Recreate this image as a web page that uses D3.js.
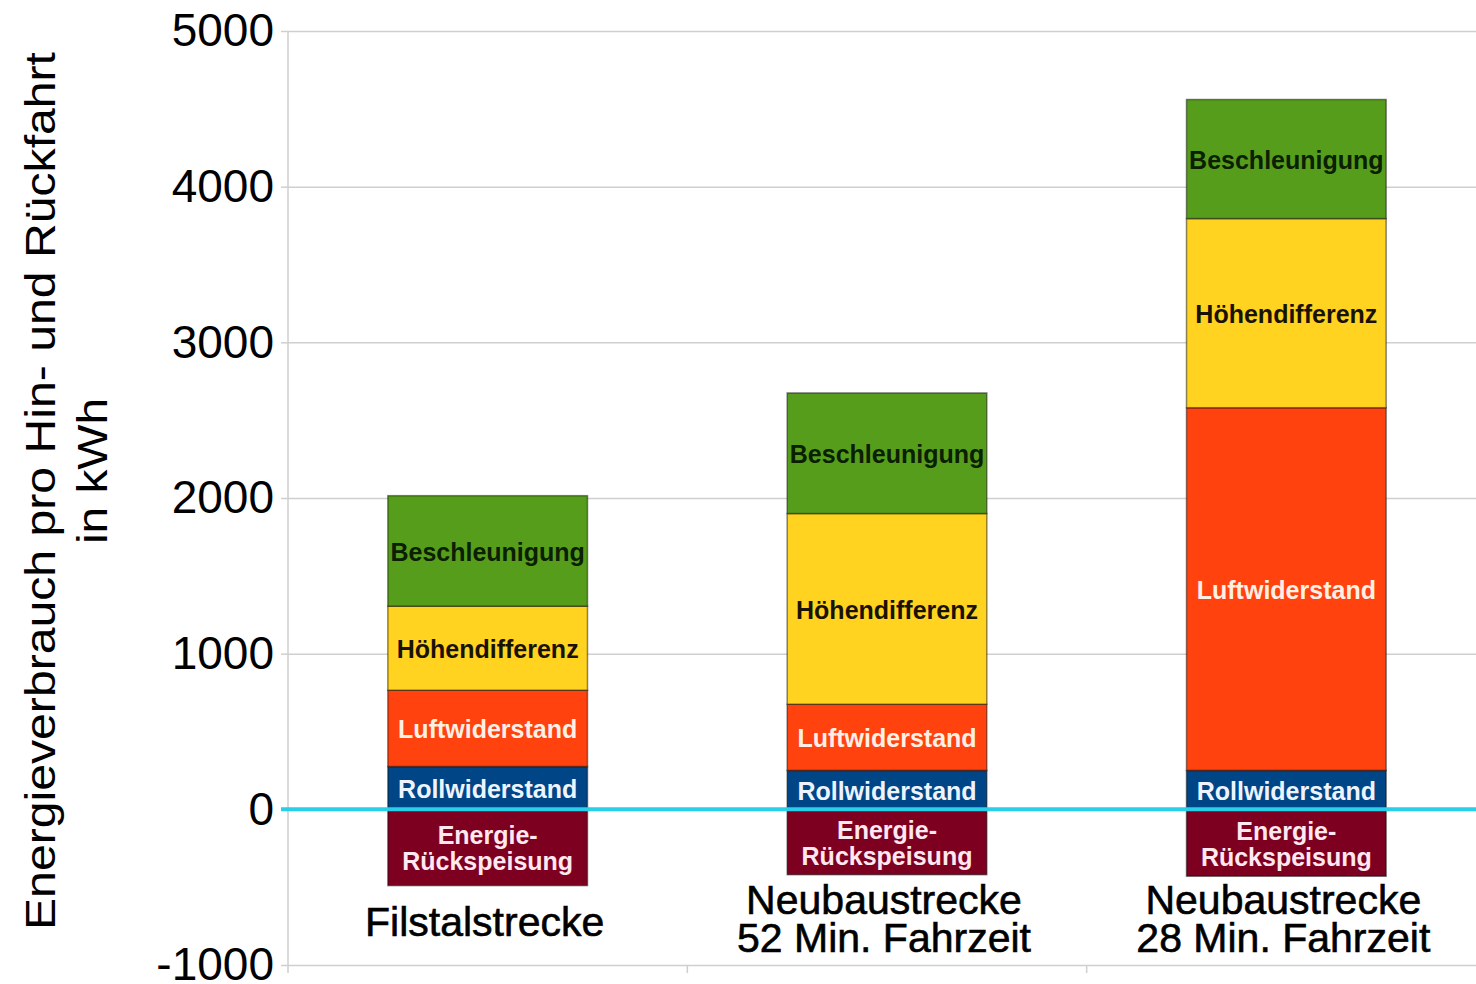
<!DOCTYPE html>
<html>
<head>
<meta charset="utf-8">
<script src="https://cdn.jsdelivr.net/npm/d3@7"></script>
<style>
    body { margin: 0; background: #ffffff; }
    svg { display: block; font-family: "Liberation Sans", Arial, sans-serif; }
</style>
</head>
<body>
<svg id="chart"></svg>
<script>
// Kategorien (Strecken), je Zeile ein Eintrag
var categories = [
    ["Filstalstrecke"],
    ["Neubaustrecke", "52 Min. Fahrzeit"],
    ["Neubaustrecke", "28 Min. Fahrzeit"]
];
// Energieanteile in kWh
var rollwiderstand = [275, 250, 250];
var luftwiderstand = [490, 425, 2330];
var hoehendifferenz = [540, 1225, 1215];
var beschleunigung = [710, 775, 765];
var rueckspeisung = [-490, -420, -430];
var yTicks = [-1000, 0, 1000, 2000, 3000, 4000, 5000];

var series = [
    { name: "Rollwiderstand", label: ["Rollwiderstand"], values: rollwiderstand, fill: "#004586", text: "#eef4ff" },
    { name: "Luftwiderstand", label: ["Luftwiderstand"], values: luftwiderstand, fill: "#ff420e", text: "#fff0e6" },
    { name: "Höhendifferenz", label: ["Höhendifferenz"], values: hoehendifferenz, fill: "#ffd320", text: "#1a1200" },
    { name: "Beschleunigung", label: ["Beschleunigung"], values: beschleunigung, fill: "#579d1c", text: "#0a2000" }
];
var negSeries = { name: "Energie-Rückspeisung", label: ["Energie-", "Rückspeisung"], values: rueckspeisung, fill: "#7e0021", text: "#ffe8ef" };

var svgW = 1476, svgH = 984;
var plot = { left: 288, right: 1486, top: 31, bottom: 965 };

var svg = d3.select("#chart").attr("width", svgW).attr("height", svgH);

var yScale = d3.scaleLinear().domain([-1000, 5000]).range([plot.bottom, plot.top]);
var xScale = d3.scaleBand()
    .domain(d3.range(categories.length))
    .range([plot.left, plot.right])
    .paddingInner(0.5)
    .paddingOuter(0.25);

// Gitterlinien
svg.append("g")
    .attr("transform", `translate(${plot.left},0)`)
    .call(d3.axisLeft(yScale).tickValues(yTicks).tickSize(-(plot.right - plot.left)).tickFormat(""))
    .call(function (g) {
        g.select(".domain").remove();
        g.selectAll("line").attr("stroke", "#cfcfcf").attr("stroke-width", 1.5);
    });

// y-Achse mit Beschriftung (normaler Bindestrich als Minus)
svg.append("g")
    .attr("transform", `translate(${plot.left},0)`)
    .call(d3.axisLeft(yScale).tickValues(yTicks).tickSize(7).tickPadding(7).tickFormat(function (v) {
        return String(v);
    }))
    .call(function (g) {
        g.select(".domain").attr("stroke", "#cfcfcf").attr("stroke-width", 1.5)
            .attr("d", `M0,${plot.top}V${plot.bottom + 8}`);
        g.selectAll("line").attr("stroke", "#cfcfcf").attr("stroke-width", 1.5);
        g.selectAll("text")
            .attr("fill", "#000")
            .attr("font-size", 46)
            .attr("font-family", "Liberation Sans, Arial, sans-serif");
    });

// Kategorie-Trennstriche unten
svg.append("g")
    .selectAll("line")
    .data(d3.range(1, categories.length))
    .join("line")
    .attr("x1", function (i) { return xScale(i) - xScale.step() * xScale.paddingInner() / 2; })
    .attr("x2", function (i) { return xScale(i) - xScale.step() * xScale.paddingInner() / 2; })
    .attr("y1", plot.bottom)
    .attr("y2", plot.bottom + 8)
    .attr("stroke", "#cfcfcf")
    .attr("stroke-width", 1.5);

// gestapelte Segmente
var segments = [];
categories.forEach(function (cat, i) {
    var base = 0;
    series.forEach(function (s) {
        segments.push({ s: s, i: i, y0: base, y1: base + s.values[i] });
        base += s.values[i];
    });
    segments.push({ s: negSeries, i: i, y0: negSeries.values[i], y1: 0 });
});

var segG = svg.append("g").selectAll("g")
    .data(segments)
    .join("g");

segG.append("rect")
    .attr("x", function (d) { return xScale(d.i); })
    .attr("width", xScale.bandwidth())
    .attr("y", function (d) { return yScale(d.y1); })
    .attr("height", function (d) { return yScale(d.y0) - yScale(d.y1); })
    .attr("fill", function (d) { return d.s.fill; })
    .attr("stroke", "rgba(0,0,0,0.45)")
    .attr("stroke-width", 1.5);

segG.append("text")
    .attr("text-anchor", "middle")
    .attr("font-size", 25)
    .attr("font-weight", "bold")
    .attr("fill", function (d) { return d.s.text; })
    .attr("transform", function (d) {
        var cx = xScale(d.i) + xScale.bandwidth() / 2;
        var cy = (yScale(d.y0) + yScale(d.y1)) / 2;
        return `translate(${cx},${cy})`;
    })
    .each(function (d) {
        var lines = d.s.label;
        var t = d3.select(this);
        lines.forEach(function (line, k) {
            t.append("tspan")
                .attr("x", 0)
                .attr("y", (k - (lines.length - 1) / 2) * 26 + 10)
                .text(line);
        });
    });

// Nulllinie
svg.append("line")
    .attr("x1", plot.left - 7)
    .attr("x2", svgW)
    .attr("y1", yScale(0))
    .attr("y2", yScale(0))
    .attr("stroke", "#27cfe9")
    .attr("stroke-width", 4);

// Kategoriebeschriftung
svg.append("g").selectAll("text")
    .data(categories)
    .join("text")
    .attr("text-anchor", "middle")
    .attr("font-size", 41)
    .attr("fill", "#000")
    .attr("stroke", "#000")
    .attr("stroke-width", 0.6)
    .attr("transform", function (d, i) {
        return `translate(${xScale(i) + xScale.bandwidth() / 2},0)`;
    })
    .each(function (lines, i) {
        var t = d3.select(this);
        var baseY = lines.length == 1 ? 936 : 914;
        lines.forEach(function (line, k) {
            t.append("tspan").attr("x", -3).attr("y", baseY + k * 38).text(line);
        });
    });

// Achsentitel
var titleG = svg.append("g");
titleG.append("text")
    .attr("transform", "translate(55,491) rotate(-90)")
    .attr("text-anchor", "middle")
    .attr("font-size", 43)
    .attr("textLength", 878)
    .attr("lengthAdjust", "spacingAndGlyphs")
    .attr("fill", "#000")
    .text("Energieverbrauch pro Hin- und Rückfahrt");
titleG.append("text")
    .attr("transform", "translate(107,471) rotate(-90)")
    .attr("text-anchor", "middle")
    .attr("font-size", 43)
    .attr("textLength", 146)
    .attr("lengthAdjust", "spacingAndGlyphs")
    .attr("fill", "#000")
    .text("in kWh");
</script>
</body>
</html>
